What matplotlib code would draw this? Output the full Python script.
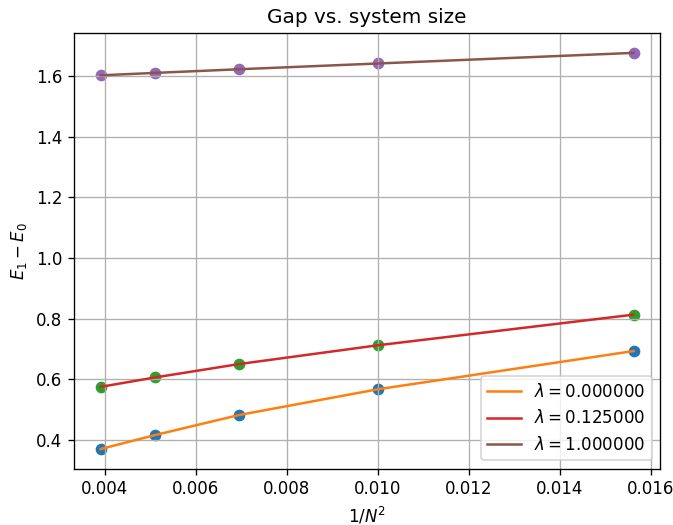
import numpy as np
import matplotlib
matplotlib.use('Agg')
import matplotlib.pyplot as plt

# system sizes N -> x = 1/N^2
N = np.array([16, 14, 12, 10, 8])
x = 1.0 / N**2

lams = [0.0, 0.125, 1.0]
# gap E1-E0
gap_0 = [0.370, 0.416, 0.482, 0.567, 0.693]
gap_125 = [0.575, 0.606, 0.650, 0.712, 0.813]
gap_1 = [1.602, 1.610, 1.622, 1.641, 1.676]
gaps = [gap_0, gap_125, gap_1]

pt_colors = ['C0', 'C2', 'C4']
ln_colors = ['C1', 'C3', 'C5']

fig, ax = plt.subplots(figsize=(673 / 120, 525 / 120), dpi=120)
for i, (lam, g) in enumerate(zip(lams, gaps)):
    ax.scatter(x, g, color=pt_colors[i])
    ax.plot(x, g, color=ln_colors[i], label=r'$\lambda=%f$' % lam)

ax.set_title('Gap vs. system size')
ax.set_xlabel(r'$1/N^2$')
ax.set_ylabel(r'$E_1-E_0$')
ax.grid()
ax.legend(loc='lower right')
fig.subplots_adjust(left=0.110, right=0.981, top=0.937, bottom=0.107)
fig.savefig('out.png')
